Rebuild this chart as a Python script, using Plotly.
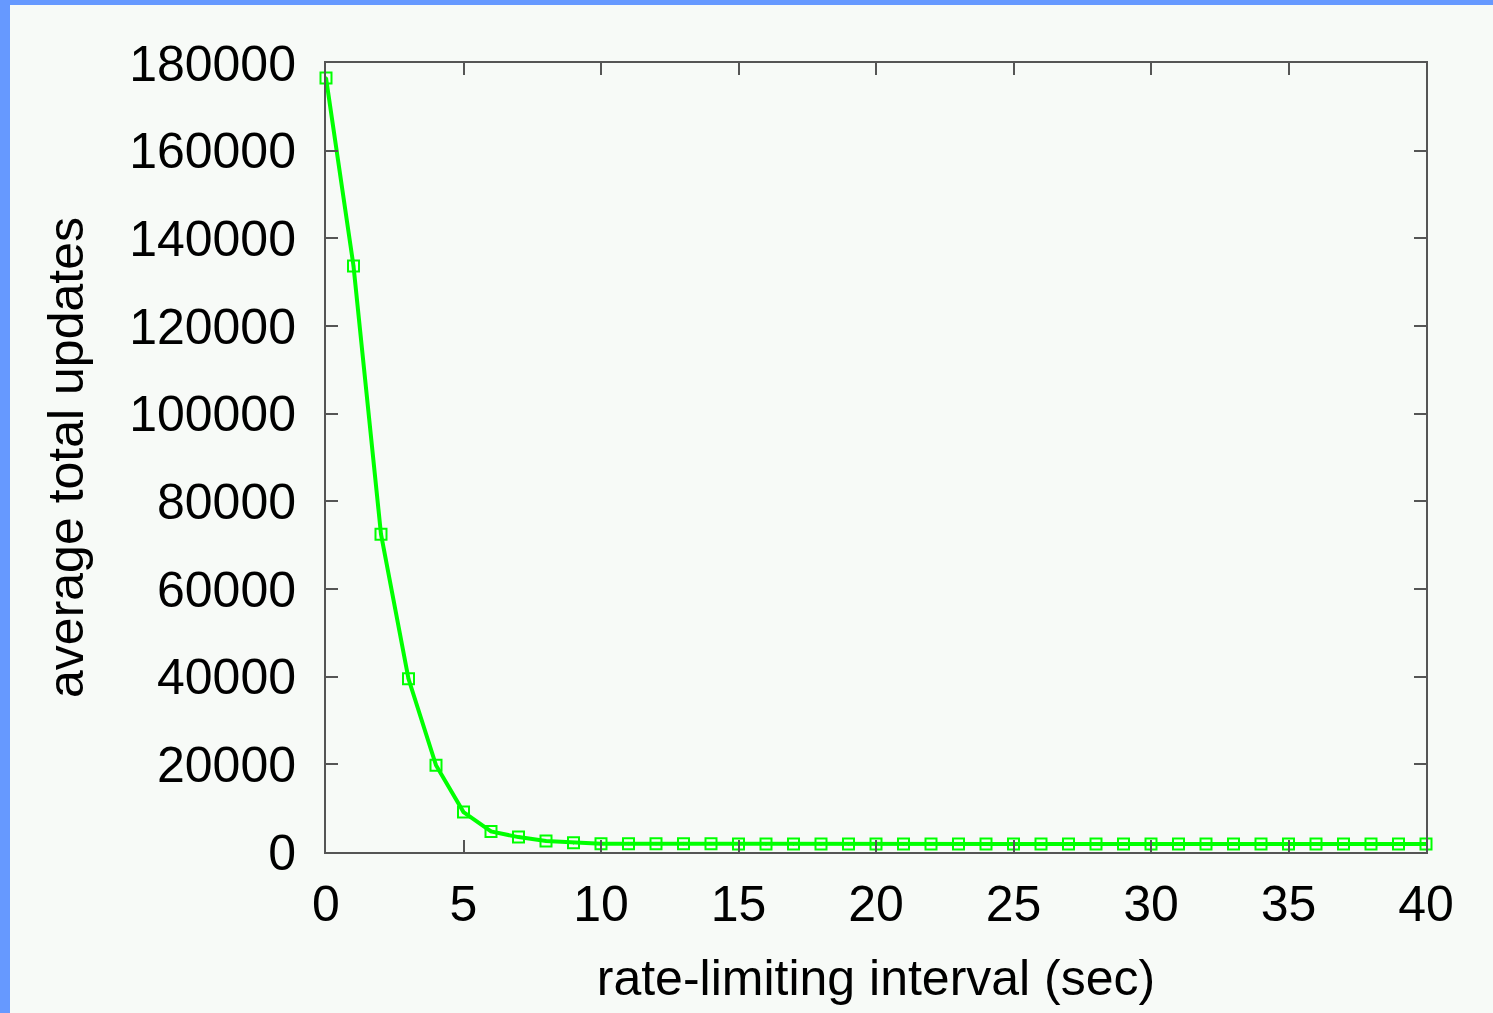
import plotly.graph_objects as go

x_vals = list(range(0, 41))
y_vals = [176600, 133700, 72500, 39500, 19800, 9100, 4700, 3400, 2500, 2100,
          1900, 1900, 1900, 1900, 1900, 1800, 1800, 1800, 1800, 1800,
          1800, 1800, 1800, 1800, 1800, 1800, 1800, 1800, 1800, 1800,
          1800, 1800, 1800, 1800, 1800, 1800, 1800, 1800, 1800, 1800, 1800]
x_ticks = [0, 5, 10, 15, 20, 25, 30, 35, 40]
y_ticks = [0, 20000, 40000, 60000, 80000, 100000, 120000, 140000, 160000, 180000]

W, H = 1493, 1013
L, R, T, B = 326, 67, 63, 161
pw, ph = W - L - R, H - T - B

FONT = "Liberation Sans, Arial, sans-serif"
FS = 50

fig = go.Figure()
fig.add_trace(go.Scatter(
    x=x_vals, y=y_vals, mode="lines+markers",
    line=dict(color="#00ff00", width=4),
    marker=dict(symbol="square-open-dot", size=11, color="#00ff00",
                line=dict(color="#00ff00", width=2)),
    showlegend=False, cliponaxis=False,
))

axis_common = dict(
    showline=True, linecolor="#555555", linewidth=2, mirror="ticks",
    ticks="inside", ticklen=12, tickwidth=2, tickcolor="#555555",
    showgrid=False, zeroline=False,
    tickfont=dict(family=FONT, size=FS, color="#000000"),
)

fig.update_xaxes(range=[0, 40], tickvals=x_ticks, ticktext=[str(v) for v in x_ticks],
                 ticklabelstandoff=7,
                 title=dict(text="rate-limiting interval (sec)", standoff=29,
                            font=dict(family=FONT, size=FS, color="#000000")),
                 **axis_common)
fig.update_yaxes(range=[0, 180000], tickvals=y_ticks, ticktext=[str(v) for v in y_ticks],
                 ticklabelstandoff=18,
                 title=dict(text="average total updates", standoff=30,
                            font=dict(family=FONT, size=FS, color="#000000")),
                 **axis_common)

def px_x(p):
    return (p - L) / pw

def px_y(p):
    return 1 - (p - T) / ph

blue = "#6699ff"
fig.add_shape(type="rect", xref="paper", yref="paper",
              x0=px_x(0), x1=px_x(10), y0=px_y(H), y1=px_y(0),
              fillcolor=blue, line=dict(width=0), layer="above")
fig.add_shape(type="rect", xref="paper", yref="paper",
              x0=px_x(0), x1=px_x(W), y0=px_y(5), y1=px_y(0),
              fillcolor=blue, line=dict(width=0), layer="above")

fig.update_layout(
    width=W, height=H,
    margin=dict(l=L, r=R, t=T, b=B),
    paper_bgcolor="#f7faf7", plot_bgcolor="#f7faf7",
    font=dict(family=FONT, color="#000000"),
)

fig.write_html("out.html")
